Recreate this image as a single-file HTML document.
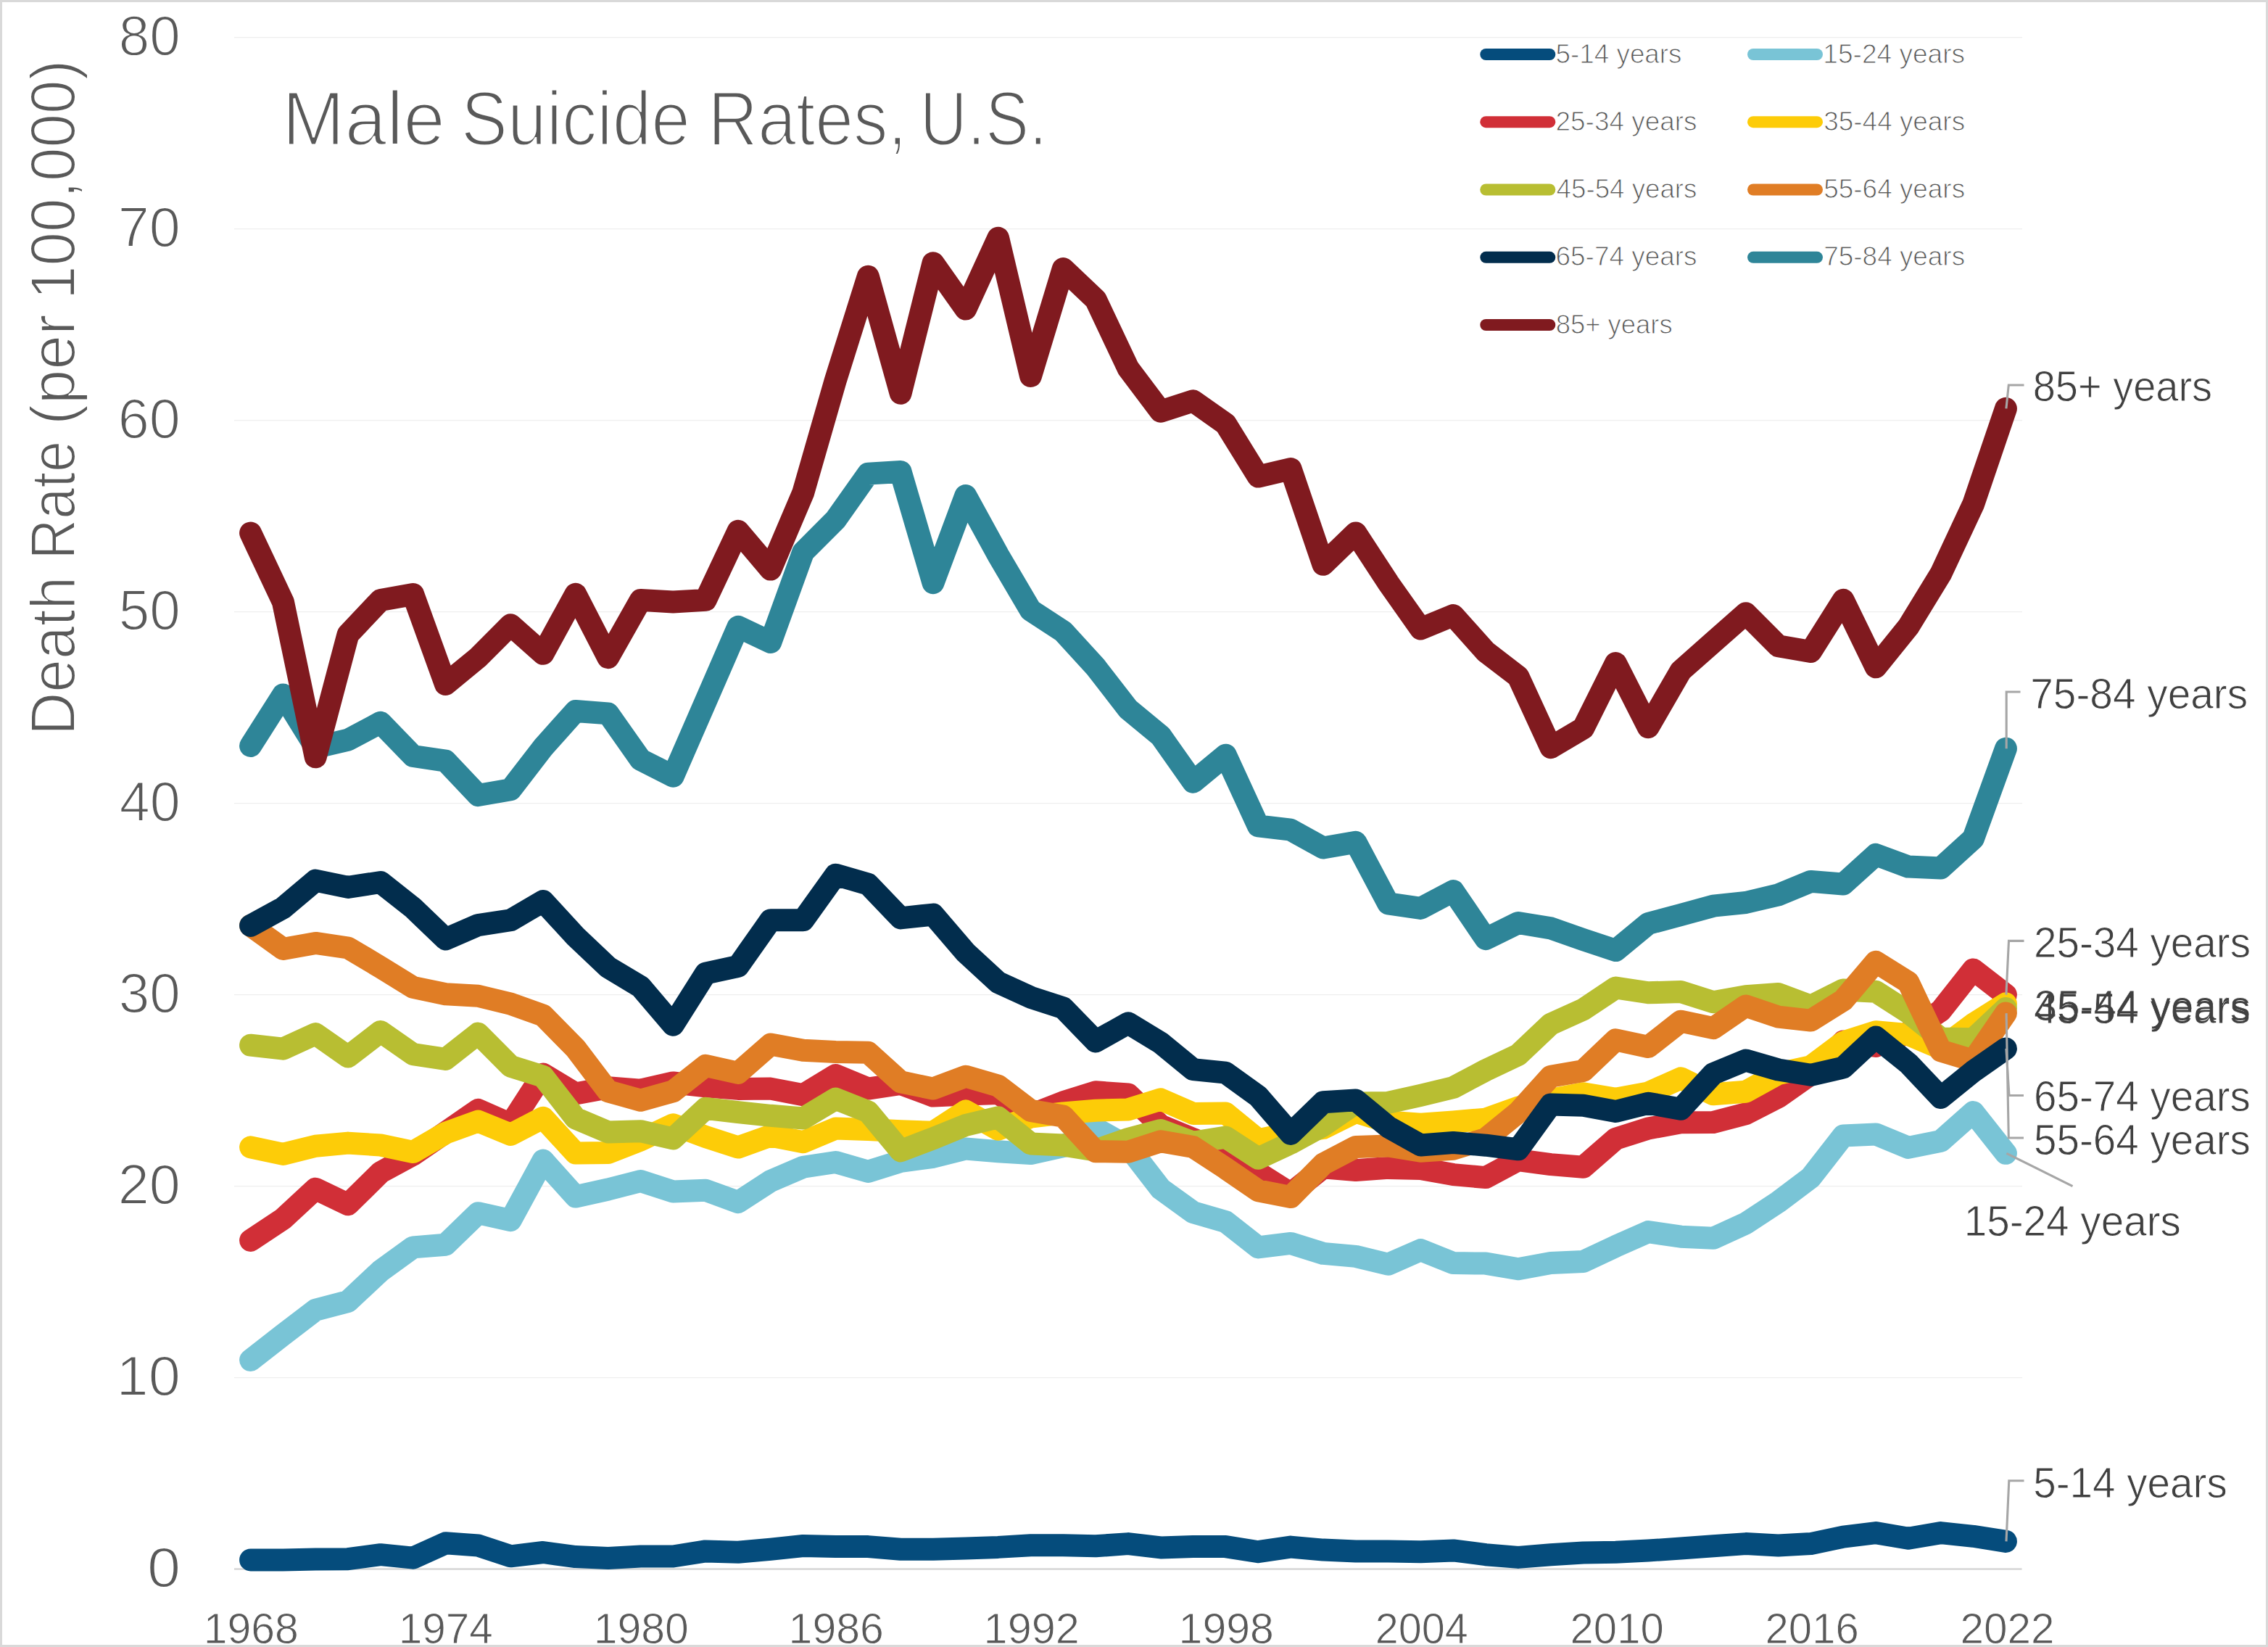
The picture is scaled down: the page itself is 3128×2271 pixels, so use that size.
<!DOCTYPE html>
<html><head><meta charset="utf-8"><title>Male Suicide Rates, U.S.</title>
<style>
html,body{margin:0;padding:0;background:#fff;}
body{width:3128px;height:2271px;overflow:hidden;}
svg{display:block;}
text{font-family:"Liberation Sans",sans-serif;}
</style></head><body>
<svg width="3128" height="2271" viewBox="0 0 3128 2271">
<rect x="0" y="0" width="3128" height="2271" fill="#ffffff"/>
<g stroke="#EEEEEE" stroke-width="1.3" fill="none">
<line x1="323" y1="1899.6" x2="2789" y2="1899.6"/>
<line x1="323" y1="1635.6" x2="2789" y2="1635.6"/>
<line x1="323" y1="1371.6" x2="2789" y2="1371.6"/>
<line x1="323" y1="1107.6" x2="2789" y2="1107.6"/>
<line x1="323" y1="843.6" x2="2789" y2="843.6"/>
<line x1="323" y1="579.6" x2="2789" y2="579.6"/>
<line x1="323" y1="315.6" x2="2789" y2="315.6"/>
<line x1="323" y1="51.6" x2="2789" y2="51.6"/>
</g>
<line x1="323" y1="2163.5" x2="2788.5" y2="2163.5" stroke="#D6D6D6" stroke-width="2.7"/>
<text x="203.1" y="2187.5" font-size="78" fill="#595959" textLength="46.1" lengthAdjust="spacingAndGlyphs" stroke="#fff" stroke-width="1.8">0</text>
<text x="160.6" y="1923.5" font-size="78" fill="#595959" textLength="88.3" lengthAdjust="spacingAndGlyphs" stroke="#fff" stroke-width="1.8">10</text>
<text x="162.7" y="1659.5" font-size="78" fill="#595959" textLength="86.1" lengthAdjust="spacingAndGlyphs" stroke="#fff" stroke-width="1.8">20</text>
<text x="163.8" y="1395.5" font-size="78" fill="#595959" textLength="85.1" lengthAdjust="spacingAndGlyphs" stroke="#fff" stroke-width="1.8">30</text>
<text x="164.8" y="1131.5" font-size="78" fill="#595959" textLength="84.0" lengthAdjust="spacingAndGlyphs" stroke="#fff" stroke-width="1.8">40</text>
<text x="163.8" y="867.5" font-size="78" fill="#595959" textLength="85.1" lengthAdjust="spacingAndGlyphs" stroke="#fff" stroke-width="1.8">50</text>
<text x="162.7" y="603.5" font-size="78" fill="#595959" textLength="86.1" lengthAdjust="spacingAndGlyphs" stroke="#fff" stroke-width="1.8">60</text>
<text x="162.7" y="339.5" font-size="78" fill="#595959" textLength="86.1" lengthAdjust="spacingAndGlyphs" stroke="#fff" stroke-width="1.8">70</text>
<text x="163.8" y="75.5" font-size="78" fill="#595959" textLength="85.1" lengthAdjust="spacingAndGlyphs" stroke="#fff" stroke-width="1.8">80</text>
<text x="280.7" y="2265.5" font-size="59" fill="#595959" textLength="131.2" lengthAdjust="spacingAndGlyphs" stroke="#fff" stroke-width="0.9">1968</text>
<text x="549.7" y="2265.5" font-size="59" fill="#595959" textLength="130.1" lengthAdjust="spacingAndGlyphs" stroke="#fff" stroke-width="0.9">1974</text>
<text x="818.7" y="2265.5" font-size="59" fill="#595959" textLength="131.2" lengthAdjust="spacingAndGlyphs" stroke="#fff" stroke-width="0.9">1980</text>
<text x="1087.6" y="2265.5" font-size="59" fill="#595959" textLength="131.2" lengthAdjust="spacingAndGlyphs" stroke="#fff" stroke-width="0.9">1986</text>
<text x="1356.6" y="2265.5" font-size="59" fill="#595959" textLength="132.2" lengthAdjust="spacingAndGlyphs" stroke="#fff" stroke-width="0.9">1992</text>
<text x="1625.6" y="2265.5" font-size="59" fill="#595959" textLength="131.2" lengthAdjust="spacingAndGlyphs" stroke="#fff" stroke-width="0.9">1998</text>
<text x="1896.7" y="2265.5" font-size="59" fill="#595959" textLength="128.1" lengthAdjust="spacingAndGlyphs" stroke="#fff" stroke-width="0.9">2004</text>
<text x="2165.6" y="2265.5" font-size="59" fill="#595959" textLength="129.1" lengthAdjust="spacingAndGlyphs" stroke="#fff" stroke-width="0.9">2010</text>
<text x="2434.6" y="2265.5" font-size="59" fill="#595959" textLength="129.1" lengthAdjust="spacingAndGlyphs" stroke="#fff" stroke-width="0.9">2016</text>
<text x="2703.5" y="2265.5" font-size="59" fill="#595959" textLength="130.1" lengthAdjust="spacingAndGlyphs" stroke="#fff" stroke-width="0.9">2022</text>
<g transform="translate(102.5,1006.3) rotate(-90)">
<text x="-7.6" y="0" font-size="87" fill="#595959" textLength="219.0" lengthAdjust="spacingAndGlyphs" stroke="#fff" stroke-width="2.0">Death</text>
<text x="234.7" y="0" font-size="87" fill="#595959" textLength="163.7" lengthAdjust="spacingAndGlyphs" stroke="#fff" stroke-width="2.0">Rate</text>
<text x="420.4" y="0" font-size="87" fill="#595959" textLength="152.4" lengthAdjust="spacingAndGlyphs" stroke="#fff" stroke-width="2.0">(per</text>
<text x="593.3" y="0" font-size="87" fill="#595959" textLength="330.5" lengthAdjust="spacingAndGlyphs" stroke="#fff" stroke-width="2.0">100,000)</text>
</g>
<text x="389.0" y="199.6" font-size="105" fill="#595959" textLength="224.9" lengthAdjust="spacingAndGlyphs" stroke="#fff" stroke-width="3.0">Male</text>
<text x="635.8" y="199.6" font-size="105" fill="#595959" textLength="316.1" lengthAdjust="spacingAndGlyphs" stroke="#fff" stroke-width="3.0">Suicide</text>
<text x="976.6" y="199.6" font-size="105" fill="#595959" textLength="274.3" lengthAdjust="spacingAndGlyphs" stroke="#fff" stroke-width="3.0">Rates,</text>
<text x="1268.8" y="199.6" font-size="105" fill="#595959" textLength="175.4" lengthAdjust="spacingAndGlyphs" stroke="#fff" stroke-width="3.0">U.S.</text>
<g stroke-linecap="round">
<line x1="2049.3" y1="75.0" x2="2137.3" y2="75.0" stroke="#054C7C" stroke-width="16"/>
<text x="2145.6" y="86.6" font-size="37.5" fill="#595959" textLength="173.9" lengthAdjust="spacingAndGlyphs" stroke="#fff" stroke-width="1.0">5-14 years</text>
<line x1="2418.0" y1="75.0" x2="2506.0" y2="75.0" stroke="#79C4D6" stroke-width="16"/>
<text x="2514.3" y="86.6" font-size="37.5" fill="#595959" textLength="195.8" lengthAdjust="spacingAndGlyphs" stroke="#fff" stroke-width="1.0">15-24 years</text>
<line x1="2049.3" y1="168.2" x2="2137.3" y2="168.2" stroke="#D12F37" stroke-width="16"/>
<text x="2145.6" y="179.8" font-size="37.5" fill="#595959" textLength="194.8" lengthAdjust="spacingAndGlyphs" stroke="#fff" stroke-width="1.0">25-34 years</text>
<line x1="2418.0" y1="168.2" x2="2506.0" y2="168.2" stroke="#FDCC08" stroke-width="16"/>
<text x="2515.3" y="179.8" font-size="37.5" fill="#595959" textLength="194.8" lengthAdjust="spacingAndGlyphs" stroke="#fff" stroke-width="1.0">35-44 years</text>
<line x1="2049.3" y1="261.5" x2="2137.3" y2="261.5" stroke="#B8BE32" stroke-width="16"/>
<text x="2146.6" y="273.1" font-size="37.5" fill="#595959" textLength="193.8" lengthAdjust="spacingAndGlyphs" stroke="#fff" stroke-width="1.0">45-54 years</text>
<line x1="2418.0" y1="261.5" x2="2506.0" y2="261.5" stroke="#E07D25" stroke-width="16"/>
<text x="2515.3" y="273.1" font-size="37.5" fill="#595959" textLength="194.8" lengthAdjust="spacingAndGlyphs" stroke="#fff" stroke-width="1.0">55-64 years</text>
<line x1="2049.3" y1="354.8" x2="2137.3" y2="354.8" stroke="#022D4D" stroke-width="16"/>
<text x="2145.6" y="366.4" font-size="37.5" fill="#595959" textLength="194.8" lengthAdjust="spacingAndGlyphs" stroke="#fff" stroke-width="1.0">65-74 years</text>
<line x1="2418.0" y1="354.8" x2="2506.0" y2="354.8" stroke="#2E8598" stroke-width="16"/>
<text x="2515.3" y="366.4" font-size="37.5" fill="#595959" textLength="194.8" lengthAdjust="spacingAndGlyphs" stroke="#fff" stroke-width="1.0">75-84 years</text>
<line x1="2049.3" y1="448.0" x2="2137.3" y2="448.0" stroke="#801A1F" stroke-width="16"/>
<text x="2145.7" y="459.6" font-size="37.5" fill="#595959" textLength="161.0" lengthAdjust="spacingAndGlyphs" stroke="#fff" stroke-width="1.0">85+ years</text>
</g>
<g fill="none" stroke-width="31" stroke-linecap="round" stroke-linejoin="round">
<polyline stroke="#054C7C" points="345.6,2150.9 390.4,2150.9 435.2,2150.0 480.0,2149.7 524.9,2143.7 569.7,2148.2 614.5,2127.8 659.4,2131.0 704.2,2145.8 749.0,2140.5 793.8,2146.6 838.7,2148.4 883.5,2146.0 928.3,2146.0 973.2,2138.9 1018.0,2140.2 1062.8,2136.3 1107.7,2131.5 1152.5,2132.6 1197.3,2132.6 1242.1,2136.3 1287.0,2136.3 1331.8,2135.0 1376.6,2133.4 1421.5,2130.7 1466.3,2130.7 1511.1,2131.8 1556.0,2128.6 1600.8,2133.9 1645.6,2132.6 1690.4,2132.6 1735.3,2139.7 1780.1,2133.1 1824.9,2137.1 1869.8,2138.9 1914.6,2138.9 1959.4,2139.7 2004.3,2137.9 2049.1,2143.7 2093.9,2147.4 2138.8,2143.7 2183.6,2141.0 2228.4,2140.2 2273.2,2138.1 2318.1,2135.0 2362.9,2131.8 2407.7,2128.6 2452.6,2131.0 2497.4,2128.6 2542.2,2119.1 2587.1,2113.6 2631.9,2121.2 2676.7,2113.6 2721.5,2118.3 2766.4,2125.4"/>
<polyline stroke="#79C4D6" points="345.6,1875.4 390.4,1840.6 435.2,1806.3 480.0,1794.4 524.9,1752.4 569.7,1719.9 614.5,1716.2 659.4,1672.7 704.2,1682.7 749.0,1600.1 793.8,1650.0 838.7,1640.0 883.5,1628.6 928.3,1643.1 973.2,1641.3 1018.0,1657.6 1062.8,1628.6 1107.7,1609.3 1152.5,1602.5 1197.3,1615.4 1242.1,1601.4 1287.0,1595.3 1331.8,1584.0 1376.6,1587.7 1421.5,1590.6 1466.3,1580.6 1511.1,1556.0 1556.0,1581.3 1600.8,1639.2 1645.6,1671.6 1690.4,1684.6 1735.3,1719.9 1780.1,1714.4 1824.9,1728.4 1869.8,1732.4 1914.6,1743.2 1959.4,1723.6 2004.3,1741.6 2049.1,1742.1 2093.9,1749.8 2138.8,1741.6 2183.6,1739.5 2228.4,1718.4 2273.2,1698.6 2318.1,1705.2 2362.9,1707.3 2407.7,1686.9 2452.6,1657.4 2497.4,1623.6 2542.2,1566.0 2587.1,1563.9 2631.9,1582.4 2676.7,1573.4 2721.5,1533.6 2766.4,1590.3"/>
<polyline stroke="#D12F37" points="345.6,1710.4 390.4,1680.6 435.2,1639.2 480.0,1660.8 524.9,1616.5 569.7,1592.2 614.5,1561.5 659.4,1530.4 704.2,1550.2 749.0,1481.0 793.8,1508.0 838.7,1499.8 883.5,1503.2 928.3,1492.9 973.2,1497.9 1018.0,1501.4 1062.8,1501.1 1107.7,1509.8 1152.5,1482.6 1197.3,1501.1 1242.1,1494.5 1287.0,1511.1 1331.8,1509.0 1376.6,1507.4 1421.5,1537.5 1466.3,1519.8 1511.1,1505.8 1556.0,1509.0 1600.8,1552.0 1645.6,1570.5 1690.4,1590.3 1735.3,1617.2 1780.1,1645.8 1824.9,1609.9 1869.8,1613.6 1914.6,1610.4 1959.4,1611.4 2004.3,1619.6 2049.1,1623.6 2093.9,1599.6 2138.8,1605.6 2183.6,1609.3 2228.4,1570.3 2273.2,1556.0 2318.1,1547.8 2362.9,1547.6 2407.7,1535.7 2452.6,1512.7 2497.4,1481.3 2542.2,1436.1 2587.1,1442.5 2631.9,1424.0 2676.7,1393.6 2721.5,1336.9 2766.4,1371.7"/>
<polyline stroke="#FDCC08" points="345.6,1581.9 390.4,1591.4 435.2,1580.3 480.0,1576.1 524.9,1579.0 569.7,1588.5 614.5,1562.3 659.4,1546.0 704.2,1564.4 749.0,1541.2 793.8,1590.1 838.7,1589.5 883.5,1572.1 928.3,1550.7 973.2,1567.6 1018.0,1582.1 1062.8,1566.0 1107.7,1574.7 1152.5,1556.0 1197.3,1557.6 1242.1,1559.7 1287.0,1561.3 1331.8,1532.0 1376.6,1557.3 1421.5,1540.2 1466.3,1534.9 1511.1,1531.2 1556.0,1529.9 1600.8,1515.9 1645.6,1535.4 1690.4,1535.1 1735.3,1571.8 1780.1,1562.3 1824.9,1555.5 1869.8,1533.3 1914.6,1547.0 1959.4,1550.2 2004.3,1547.0 2049.1,1543.1 2093.9,1527.0 2138.8,1516.4 2183.6,1507.7 2228.4,1515.3 2273.2,1506.9 2318.1,1486.8 2362.9,1508.7 2407.7,1505.3 2452.6,1480.5 2497.4,1470.7 2542.2,1437.2 2587.1,1422.7 2631.9,1426.6 2676.7,1445.6 2721.5,1412.1 2766.4,1383.9"/>
<polyline stroke="#B8BE32" points="345.6,1441.2 390.4,1446.2 435.2,1425.6 480.0,1457.0 524.9,1422.4 569.7,1453.6 614.5,1460.4 659.4,1425.1 704.2,1470.2 749.0,1484.2 793.8,1542.0 838.7,1561.0 883.5,1559.7 928.3,1570.0 973.2,1528.3 1018.0,1533.6 1062.8,1538.3 1107.7,1542.0 1152.5,1515.1 1197.3,1532.8 1242.1,1586.9 1287.0,1569.7 1331.8,1551.5 1376.6,1540.7 1421.5,1576.9 1466.3,1579.0 1511.1,1586.1 1556.0,1570.5 1600.8,1558.4 1645.6,1575.3 1690.4,1568.1 1735.3,1597.2 1780.1,1576.3 1824.9,1551.8 1869.8,1520.9 1914.6,1520.4 1959.4,1510.3 2004.3,1499.5 2049.1,1475.7 2093.9,1454.6 2138.8,1412.1 2183.6,1391.8 2228.4,1362.0 2273.2,1368.8 2318.1,1367.5 2362.9,1381.8 2407.7,1373.8 2452.6,1370.4 2497.4,1387.3 2542.2,1364.9 2587.1,1367.2 2631.9,1396.0 2676.7,1431.9 2721.5,1432.7 2766.4,1390.5"/>
<polyline stroke="#E07D25" points="345.6,1276.2 390.4,1308.4 435.2,1300.4 480.0,1307.0 524.9,1333.7 569.7,1361.4 614.5,1370.7 659.4,1373.3 704.2,1384.1 749.0,1400.2 793.8,1445.6 838.7,1504.8 883.5,1517.2 928.3,1504.8 973.2,1469.4 1018.0,1479.4 1062.8,1440.1 1107.7,1448.3 1152.5,1450.4 1197.3,1451.2 1242.1,1491.8 1287.0,1501.1 1331.8,1484.2 1376.6,1497.1 1421.5,1531.4 1466.3,1539.1 1511.1,1587.7 1556.0,1588.2 1600.8,1573.7 1645.6,1581.6 1690.4,1610.9 1735.3,1641.8 1780.1,1650.5 1824.9,1605.1 1869.8,1581.6 1914.6,1580.0 1959.4,1587.2 2004.3,1584.2 2049.1,1570.3 2093.9,1533.8 2138.8,1484.2 2183.6,1476.5 2228.4,1433.8 2273.2,1443.5 2318.1,1408.2 2362.9,1417.7 2407.7,1387.0 2452.6,1402.1 2497.4,1407.1 2542.2,1379.1 2587.1,1326.3 2631.9,1354.3 2676.7,1448.8 2721.5,1462.3 2766.4,1397.1"/>
<polyline stroke="#022D4D" points="345.6,1276.4 390.4,1251.9 435.2,1214.1 480.0,1223.4 524.9,1216.5 569.7,1251.9 614.5,1294.9 659.4,1275.6 704.2,1268.8 749.0,1242.6 793.8,1291.2 838.7,1333.7 883.5,1360.6 928.3,1413.2 973.2,1342.2 1018.0,1332.4 1062.8,1268.8 1107.7,1268.8 1152.5,1206.2 1197.3,1219.1 1242.1,1265.9 1287.0,1261.1 1331.8,1313.4 1376.6,1354.6 1421.5,1375.2 1466.3,1389.7 1511.1,1435.9 1556.0,1410.8 1600.8,1438.0 1645.6,1474.7 1690.4,1479.2 1735.3,1511.6 1780.1,1563.4 1824.9,1519.8 1869.8,1516.9 1914.6,1553.9 1959.4,1579.0 2004.3,1575.5 2049.1,1579.2 2093.9,1584.8 2138.8,1523.0 2183.6,1524.3 2228.4,1532.5 2273.2,1521.2 2318.1,1529.3 2362.9,1480.5 2407.7,1462.0 2452.6,1475.0 2497.4,1482.3 2542.2,1472.0 2587.1,1430.1 2631.9,1466.2 2676.7,1513.5 2721.5,1477.3 2766.4,1445.9"/>
<polyline stroke="#2E8598" points="345.6,1028.5 390.4,958.0 435.2,1030.6 480.0,1020.1 524.9,996.3 569.7,1042.5 614.5,1049.1 659.4,1096.6 704.2,1088.7 749.0,1030.6 793.8,980.5 838.7,983.9 883.5,1047.5 928.3,1070.2 973.2,967.3 1018.0,864.3 1062.8,885.4 1107.7,761.4 1152.5,716.5 1197.3,653.1 1242.1,650.5 1287.0,803.6 1331.8,683.5 1376.6,765.3 1421.5,841.6 1466.3,870.7 1511.1,919.8 1556.0,977.8 1600.8,1014.8 1645.6,1078.2 1690.4,1041.2 1735.3,1138.9 1780.1,1144.2 1824.9,1169.0 1869.8,1161.3 1914.6,1245.8 1959.4,1252.4 2004.3,1228.6 2049.1,1294.6 2093.9,1272.5 2138.8,1279.9 2183.6,1295.7 2228.4,1310.5 2273.2,1273.5 2318.1,1261.6 2362.9,1249.2 2407.7,1244.5 2452.6,1233.9 2497.4,1215.4 2542.2,1219.1 2587.1,1178.5 2631.9,1195.1 2676.7,1197.0 2721.5,1156.3 2766.4,1032.2"/>
<polyline stroke="#801A1F" points="345.6,735.0 390.4,830.0 435.2,1043.8 480.0,874.9 524.9,827.4 569.7,819.4 614.5,943.5 659.4,906.6 704.2,861.7 749.0,901.3 793.8,819.4 838.7,906.6 883.5,827.4 928.3,830.0 973.2,827.4 1018.0,732.3 1062.8,785.1 1107.7,679.5 1152.5,523.8 1197.3,381.2 1242.1,542.2 1287.0,362.7 1331.8,426.1 1376.6,328.4 1421.5,518.5 1466.3,370.6 1511.1,412.9 1556.0,507.9 1600.8,567.3 1645.6,552.8 1690.4,584.5 1735.3,657.1 1780.1,646.5 1824.9,778.3 1869.8,735.0 1914.6,803.6 1959.4,867.0 2004.3,848.5 2049.1,898.6 2093.9,933.0 2138.8,1030.6 2183.6,1004.2 2228.4,914.5 2273.2,1002.7 2318.1,925.0 2362.9,885.4 2407.7,845.8 2452.6,890.7 2497.4,898.6 2542.2,827.4 2587.1,919.8 2631.9,864.3 2676.7,791.2 2721.5,695.4 2766.4,563.4"/>
</g>
<g fill="none" stroke="#A6A6A6" stroke-width="3.1">
<polyline points="2766.9,563.4 2770.3,531 2791.5,531"/>
<polyline points="2767.2,1032.2 2767.2,954 2786.5,954"/>
<polyline points="2766.9,1371.7 2770.5,1297.4 2791.5,1297.4"/>
<polyline points="2766.9,1445.9 2771,1510.5 2791,1510.5"/>
<polyline points="2767.1,1397.1 2770.3,1569 2791,1569"/>
<polyline points="2767.4,1590.3 2858.5,1635.7"/>
<polyline points="2767.0,2125.4 2770.8,2041.8 2791.5,2041.8"/>
</g>
<text x="2803.7" y="553.2" font-size="59" fill="#404040" textLength="247.4" lengthAdjust="spacingAndGlyphs" stroke="#fff" stroke-width="0.9">85+ years</text>
<text x="2800.2" y="976.5" font-size="59" fill="#404040" textLength="300.0" lengthAdjust="spacingAndGlyphs" stroke="#fff" stroke-width="0.9">75-84 years</text>
<text x="2804.9" y="1319.6" font-size="59" fill="#404040" textLength="299.1" lengthAdjust="spacingAndGlyphs" stroke="#fff" stroke-width="0.9">25-34 years</text>
<mask id="m35" maskUnits="userSpaceOnUse" x="2798.2" y="1347.0" width="312.8" height="90"><text x="2805.8" y="1407" font-size="59" fill="#fff" stroke="#000" stroke-width="0.9" textLength="298.1" lengthAdjust="spacingAndGlyphs">35-44 years</text></mask>
<rect x="2798.2" y="1347.0" width="312.8" height="90" fill="#404040" mask="url(#m35)"/>
<mask id="m45" maskUnits="userSpaceOnUse" x="2796.5" y="1350.8" width="314.5" height="90"><text x="2805.1" y="1410.8" font-size="59" fill="#fff" stroke="#000" stroke-width="0.9" textLength="298.8" lengthAdjust="spacingAndGlyphs">45-54 years</text></mask>
<rect x="2796.5" y="1350.8" width="314.5" height="90" fill="#404040" mask="url(#m45)"/>
<text x="2805.0" y="1531.9" font-size="59" fill="#404040" textLength="298.9" lengthAdjust="spacingAndGlyphs" stroke="#fff" stroke-width="0.9">65-74 years</text>
<text x="2805.0" y="1591.8" font-size="59" fill="#404040" textLength="298.9" lengthAdjust="spacingAndGlyphs" stroke="#fff" stroke-width="0.9">55-64 years</text>
<text x="2708.7" y="1703.6" font-size="59" fill="#404040" textLength="299.2" lengthAdjust="spacingAndGlyphs" stroke="#fff" stroke-width="0.9">15-24 years</text>
<text x="2804.2" y="2065" font-size="59" fill="#404040" textLength="267.6" lengthAdjust="spacingAndGlyphs" stroke="#fff" stroke-width="0.9">5-14 years</text>
<rect x="1.5" y="1.5" width="3125" height="2268" fill="none" stroke="#D9D9D9" stroke-width="3"/>
</svg>
</body></html>
